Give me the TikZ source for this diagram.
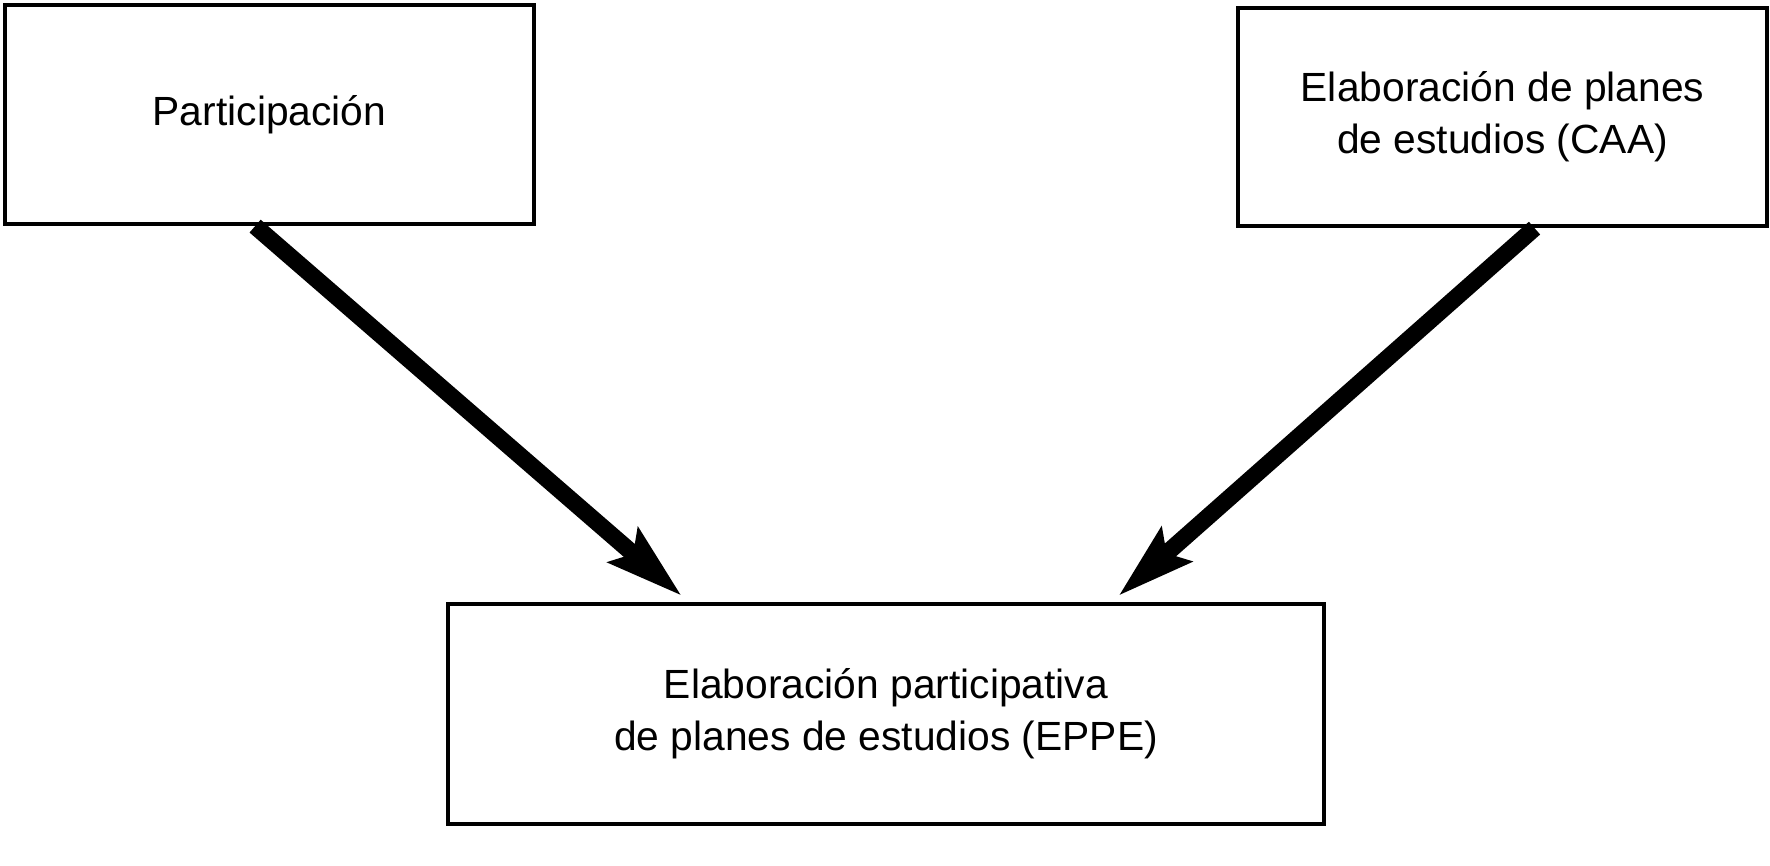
\documentclass[tikz,border=0pt]{standalone}
\usepackage{fontspec}
\setmainfont{Liberation Sans}
\usetikzlibrary{arrows.meta,calc}
\tikzset{
  boxnode/.style={draw=black, line width=1.2pt, fill=white, align=center,
    inner sep=0pt, font={\fontsize{11.6}{14.8}\selectfont}},
  bigarrow/.style={line width=0.17cm, line cap=butt,
    -{Stealth[length=0.76cm, width=0.44cm, inset=0.12cm]}}
}
\begin{document}
\begin{tikzpicture}
\useasboundingbox[fill=white] (0,0) rectangle (17.7,-8.65);
\node[boxnode, minimum width=5.29cm, minimum height=2.19cm] (part) at (2.695,-1.145) {Participación};
\node[boxnode, minimum width=5.29cm, minimum height=2.18cm] (caa) at (15.025,-1.17) {Elaboración de planes\\de estudios (CAA)};
\node[boxnode, minimum width=8.76cm, minimum height=2.20cm] (eppe) at (8.86,-7.14) {Elaboración participativa\\de planes de estudios (EPPE)};
\coordinate (s1) at ($(part.south west)!0.473!(part.south east)$);
\coordinate (s2) at ($(caa.south west)!0.56!(caa.south east)$);
\coordinate (t1) at ($(eppe.north west)!0.268!(eppe.north east)+(0,0.06)$);
\coordinate (t2) at ($(eppe.north west)!0.764!(eppe.north east)+(0,0.06)$);
\draw[bigarrow] (s1) -- (t1);
\draw[bigarrow] (s2) -- (t2);
\end{tikzpicture}
\end{document}
